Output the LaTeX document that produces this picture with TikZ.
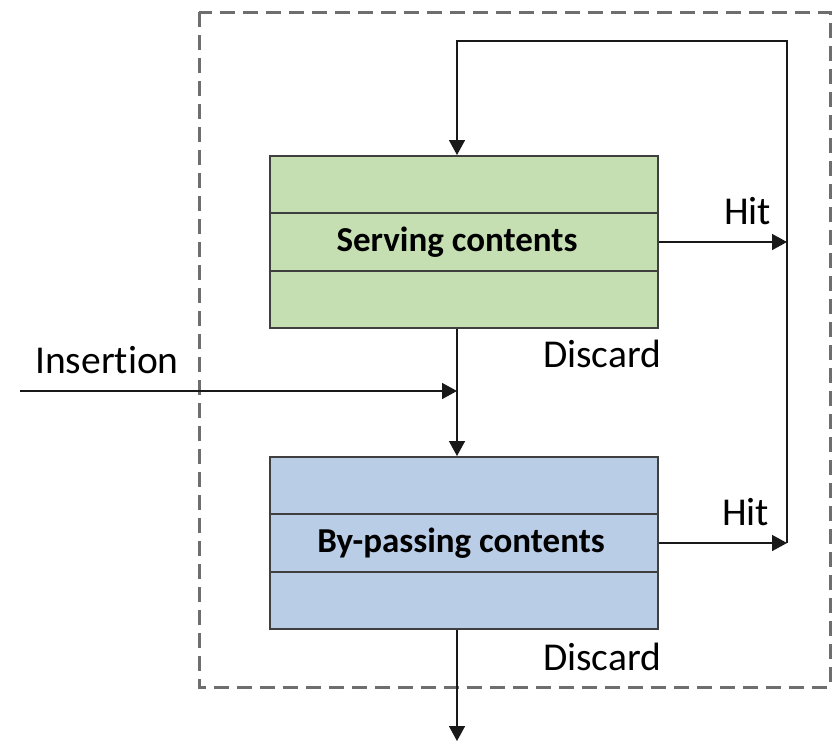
\documentclass[tikz,border=0pt]{standalone}
\usepackage{fontspec}
\setmainfont{Carlito}[Ligatures=NoCommon]
\usetikzlibrary{arrows.meta}
\definecolor{boxgreen}{HTML}{C5DFB3}
\definecolor{boxblue}{HTML}{B9CDE6}
\definecolor{edgegray}{HTML}{3F3F3F}
\definecolor{dashgray}{HTML}{6E6E6E}
\tikzset{
  cachebox/.style={draw=edgegray, line width=2pt, minimum width=388pt, minimum height=172pt, inner sep=0pt},
  boxtext/.style={inner sep=0pt, font=\fontsize{35}{40}\selectfont\bfseries},
  divider/.style={draw=edgegray, line width=2pt},
  arr/.style={line width=1.6pt, draw=black!90, -{Triangle[length=15pt,width=16pt]}},
  lbl/.style={anchor=base west, inner sep=0pt, font=\fontsize{39.5}{44}\selectfont},
  frame/.style={draw=dashgray, line width=3pt, dash pattern=on 15pt off 8pt}
}
\begin{document}
\begin{tikzpicture}[x=1pt,y=-1pt]
\useasboundingbox (0,0) rectangle (833,742);
\draw[frame] (199,12) rectangle (830,687);

\node[cachebox, fill=boxgreen] (serve) at (464,242) {};
\draw[divider] ([yshift=29pt]serve.west) -- ([yshift=29pt]serve.east);
\draw[divider] ([yshift=-29pt]serve.west) -- ([yshift=-29pt]serve.east);
\node[boxtext] (servetext) at (457,242) {Serving contents};

\node[cachebox, fill=boxblue] (bypass) at (464,543) {};
\draw[divider] ([yshift=29pt]bypass.west) -- ([yshift=29pt]bypass.east);
\draw[divider] ([yshift=-29pt]bypass.west) -- ([yshift=-29pt]bypass.east);
\node[boxtext] (bypasstext) at (461,543) {By-passing contents};

\coordinate (tl) at (457,41);
\coordinate (tr) at (787,41);
\coordinate (hj) at (787,543);
\coordinate (ins) at (20,391);
\coordinate (out) at (457,741);

\draw[arr] (hj) -- (tr) -- (tl) -- (tl |- serve.north);
\draw[arr] (serve.east) -- (serve.east -| hj);
\draw[arr] (bypass.east) -- (bypass.east -| hj);
\draw[arr] (tl |- serve.south) -- (tl |- bypass.north);
\draw[arr] (ins) -- (ins -| tl);
\draw[arr] (tl |- bypass.south) -- (out);

\node[lbl] (hit1) at (724,224) {Hit};
\node[lbl] (hit2) at (722,525) {Hit};
\node[lbl] (dis1) at (543,367) {Discard};
\node[lbl] (dis2) at (543,670) {Discard};
\node[lbl] (insl) at (35,373) {Insertion};
\end{tikzpicture}
\end{document}
